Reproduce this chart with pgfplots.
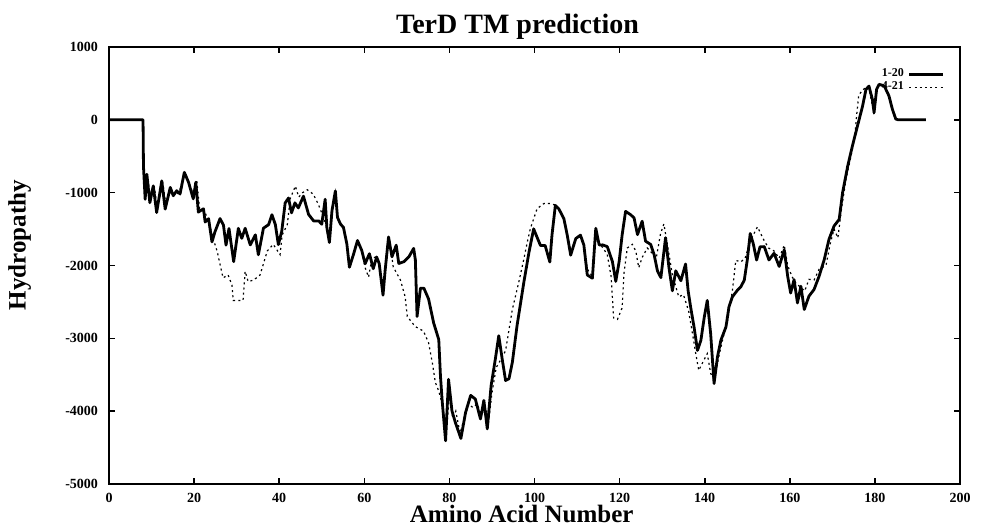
\documentclass[border=0pt]{standalone}
\usepackage{pgfplots}
\pgfplotsset{compat=1.18}
\usepackage{fontspec}
\setmainfont{Liberation Serif}
\begin{document}
\begin{tikzpicture}
\useasboundingbox (-54.5pt,-23pt) rectangle (439.5pt,242pt);
\begin{axis}[
  scale only axis,
  width=425.5pt, height=218.5pt,
  xmin=0, xmax=200, ymin=-5000, ymax=1000,
  xtick={0,20,...,200},
  xticklabels={0,20,40,60,80,100,120,140,160,180,200},
  ytick={-5000,-4000,-3000,-2000,-1000,0,1000},
  yticklabels={-5000,-4000,-3000,-2000,-1000,0,1000},
  tick align=inside, tick pos=both,
  major tick length=3pt,
  axis line style={line width=1pt},
  every tick/.style={line width=0.8pt, black},
  ticklabel style={font=\fontsize{7}{8}\selectfont\bfseries},
  yticklabel style={xshift=-2pt},
  xticklabel style={yshift=-1pt},
  title={\textbf{TerD TM prediction}},
  title style={font=\fontsize{14}{16}\selectfont, at={(axis description cs:0.48,1)}, anchor=south, yshift=-6pt},
  xlabel={\textbf{Amino Acid Number}},
  xlabel style={font=\fontsize{12.5}{14}\selectfont, at={(axis description cs:0.485,0)}, anchor=north, yshift=-7pt},
  ylabel={\textbf{Hydropathy}},
  ylabel style={font=\fontsize{12.5}{14}\selectfont, at={(axis description cs:-0.105,0.547)}, anchor=center},
  legend plot pos=right,
  legend style={draw=none, fill=none, at={(axis description cs:0.985,0.965)}, anchor=north east,
    font=\fontsize{6}{7}\selectfont\bfseries, row sep=-3pt, inner sep=1pt},
  legend cell align=right,
]
\addplot[black, line width=1.4pt, line join=round] coordinates {
(0,0)(8,0)(8.1,-636)(8.5,-1091)(8.9,-748)(9.6,-1137)(10.4,-907)(11.2,-1273)(12.4,-838)(13.2,-1226)(14.4,-928)(15.1,-1042)(15.9,-973)(16.7,-1018)(17.7,-721)(18.7,-858)(19.8,-1085)(20.4,-857)(21.0,-1267)(22.2,-1221)(22.6,-1403)(23.4,-1357)(24.2,-1676)(24.9,-1538)(26.1,-1356)(26.9,-1446)(27.5,-1720)(28.2,-1492)(29.3,-1947)(30.4,-1490)(31.2,-1627)(32.0,-1489)(33.2,-1717)(34.4,-1579)(35.1,-1853)(36.3,-1487)(37.5,-1440)(38.3,-1303)(39.1,-1440)(39.8,-1713)(40.6,-1530)(41.4,-1141)(42.2,-1073)(42.9,-1277)(43.7,-1140)(44.5,-1209)(45.7,-1048)(46.9,-1298)(48.1,-1389)(49.3,-1388)(50.0,-1434)(50.8,-1091)(51.2,-1479)(51.8,-1684)(52.4,-1250)(53.2,-976)(53.7,-1340)(54.4,-1431)(55.1,-1477)(55.9,-1704)(56.5,-2024)(57.5,-1840)(58.4,-1657)(59.4,-1793)(60.2,-1976)(61.2,-1838)(62.1,-2044)(62.9,-1883)(63.5,-1974)(64.4,-2408)(64.9,-2064)(65.7,-1608)(66.5,-1881)(67.5,-1721)(68.1,-1972)(69.3,-1948)(70.5,-1879)(71.6,-1765)(72.0,-1923)(72.4,-2700)(73.2,-2312)(74.0,-2311)(75.1,-2459)(76.3,-2789)(77.5,-3017)(77.9,-3519)(78.3,-3857)(79.1,-4406)(79.8,-3563)(80.6,-3996)(81.4,-4155)(82.7,-4375)(83.8,-4018)(85.0,-3783)(86.1,-3834)(87.3,-4107)(88.1,-3852)(88.9,-4243)(89.8,-3650)(90.8,-3283)(91.6,-2964)(92.4,-3282)(93.2,-3579)(94.0,-3555)(94.8,-3327)(95.9,-2824)(97.5,-2229)(98.7,-1818)(99.8,-1497)(100.6,-1612)(101.4,-1725)(102.5,-1725)(103.6,-1952)(104.1,-1587)(104.9,-1175)(105.7,-1221)(106.9,-1356)(107.7,-1585)(108.5,-1858)(109.7,-1630)(110.8,-1583)(111.6,-1720)(112.4,-2130)(113.6,-2175)(114.4,-1489)(115.2,-1718)(116.0,-1717)(117.1,-1740)(118.3,-1944)(119.1,-2218)(119.9,-1943)(120.6,-1578)(121.4,-1257)(122.6,-1303)(123.4,-1347)(124.2,-1576)(125.3,-1392)(126.1,-1666)(127.3,-1711)(128.1,-1848)(128.9,-2075)(129.7,-2166)(130.8,-1618)(131.6,-2029)(132.4,-2347)(133.2,-2073)(134.4,-2209)(135.5,-1980)(136.1,-2345)(136.7,-2573)(137.5,-2846)(138.3,-3166)(139.1,-3028)(139.9,-2708)(140.6,-2480)(141.4,-2936)(142.2,-3621)(143.0,-3254)(143.8,-3026)(145.0,-2842)(145.7,-2568)(146.5,-2430)(147.7,-2339)(148.5,-2292)(149.3,-2201)(150.0,-1927)(150.7,-1561)(151.4,-1698)(152.2,-1925)(153.0,-1743)(154.0,-1741)(155.1,-1924)(156.3,-1832)(157.5,-2013)(158.7,-1785)(159.5,-2149)(160.2,-2378)(161.0,-2194)(161.8,-2514)(162.6,-2285)(163.4,-2604)(164.5,-2421)(165.7,-2329)(166.9,-2145)(168.1,-1917)(169.2,-1642)(170.4,-1458)(171.6,-1367)(172.4,-1001)(173.6,-636)(174.7,-361)(175.5,-177)(176.3,6)(177.1,188)(177.9,418)(178.6,463)(179.4,282)(179.8,99)(180.4,419)(181.0,488)(182.2,465)(183.3,329)(184.1,147)(184.9,11)(185.5,0)(192,0)
};
\addlegendentry{1-20}
\addplot[black, line width=0.6pt, dash pattern=on 1pt off 1.6pt] coordinates {
(0,0)(8,0)(8.1,-640)(8.6,-1050)(9.1,-800)(9.8,-1100)(10.6,-900)(11.4,-1230)(12.6,-850)(13.4,-1180)(14.6,-950)(15.5,-1040)(16.5,-990)(17.9,-720)(18.9,-880)(20.0,-1050)(20.6,-820)(21.3,-1230)(22.4,-1250)(23.5,-1400)(24.5,-1640)(25.4,-1800)(26.8,-2170)(28.0,-2130)(28.9,-2270)(29.2,-2480)(31.5,-2480)(32.0,-2080)(32.7,-2220)(34.0,-2200)(35.5,-2130)(37.2,-1800)(38.6,-1710)(40.2,-1850)(40.7,-1580)(41.9,-1440)(42.6,-1080)(43.8,-910)(44.6,-1060)(45.5,-1000)(46.6,-960)(48.0,-1020)(49.2,-1160)(50.4,-1340)(51.2,-1480)(51.8,-1650)(52.4,-1260)(53.2,-1000)(53.7,-1330)(54.4,-1420)(55.1,-1480)(55.9,-1700)(56.5,-2000)(57.5,-1830)(58.4,-1660)(59.4,-1800)(60.2,-2030)(61.0,-2160)(61.8,-1900)(62.9,-1880)(63.5,-1970)(64.4,-2380)(64.9,-2060)(65.7,-1610)(66.5,-1890)(66.8,-2020)(68.5,-2200)(69.6,-2430)(70.1,-2700)(71.3,-2790)(72.0,-2840)(73.9,-2900)(75.1,-3060)(76.0,-3340)(76.7,-3610)(77.1,-3660)(77.9,-3800)(78.5,-4000)(79.3,-4250)(80.0,-3800)(80.8,-4100)(81.5,-4000)(82.5,-4300)(83.5,-4100)(84.5,-3900)(85.5,-3950)(86.5,-3900)(87.5,-4050)(88.5,-3950)(89.2,-4150)(90.0,-3750)(91.0,-3400)(92.0,-3300)(93.2,-3170)(94.8,-2600)(96.3,-2230)(97.5,-1910)(98.3,-1680)(99.0,-1500)(100.6,-1220)(102.2,-1150)(103.8,-1150)(104.9,-1170)(105.7,-1220)(106.9,-1360)(107.7,-1580)(108.5,-1800)(109.7,-1640)(110.8,-1600)(111.6,-1700)(112.4,-2050)(113.6,-2150)(114.4,-1620)(115.2,-1700)(116.0,-1750)(117.1,-1850)(118.0,-2150)(118.6,-2720)(119.5,-2740)(120.6,-2580)(121.0,-2120)(121.8,-1760)(123.0,-1710)(123.8,-1800)(124.5,-2030)(125.3,-1890)(126.5,-1760)(127.8,-1840)(128.6,-1900)(129.6,-1570)(130.4,-1430)(131.2,-1700)(132.4,-2130)(133.9,-2430)(135.0,-2400)(136.2,-2620)(137.0,-2890)(137.9,-3210)(138.6,-3440)(139.8,-3300)(140.6,-3210)(141.4,-3480)(142.2,-3570)(143.5,-3200)(144.5,-2950)(145.4,-2750)(146.5,-2350)(147.3,-1930)(148.5,-1950)(149.5,-1900)(150.8,-1650)(152.4,-1470)(153.9,-1650)(155.0,-1760)(156.3,-1800)(157.5,-1900)(158.7,-1720)(159.5,-2000)(160.5,-2150)(161.5,-2250)(162.6,-2300)(163.5,-2350)(164.5,-2190)(165.7,-2200)(166.9,-2050)(168.5,-2000)(169.5,-1700)(170.4,-1500)(171.3,-1620)(172.2,-1200)(173.2,-820)(174.3,-520)(175.2,-260)(175.7,60)(176.2,340)(177.0,400)(177.9,450)(178.6,430)(179.4,200)(179.8,60)(180.4,380)(181.0,480)(182.2,460)(183.3,320)(184.1,140)(184.9,10)(185.5,0)(192,0)
};
\addlegendentry{4-21}
\end{axis}
\end{tikzpicture}
\end{document}
